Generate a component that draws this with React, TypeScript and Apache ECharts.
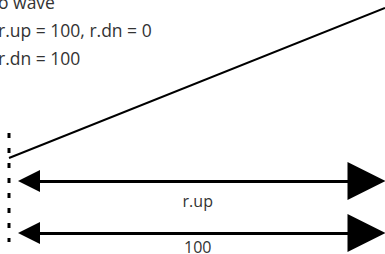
import React, { useEffect, useRef } from "react";
import * as echarts from "echarts";

// Axis domain (x: left→right, y: bottom→top)
const X_MAX = 385;
const Y_MAX = 254;

// Rising trend line
const trendX = [9, 385];
const trendY = [96, 246];

// Dotted reference line
const markerX = [9, 9];
const markerY = [121, 12];

// Double-headed arrows
const arrowFrom = [29, 29];
const arrowTo = [366.5, 366.5];
const arrowLevels = [73, 21];
const arrowLabels = ["r.up", "100"];
const arrowLabelGap = [12, 6];

// Header notes
const notes = ["o wave", "r.up = 100, r.dn = 0", "r.dn = 100"];

const FONT = "'Open Sans', sans-serif";

export default function App() {
  const ref = useRef<HTMLDivElement>(null);
  useEffect(() => {
    if (!ref.current) return;
    const chart = echarts.init(ref.current, undefined, { renderer: "svg" });
    const arrowData = arrowLevels.map((lvl, i) => ({
      coords: [
        [arrowFrom[i], lvl],
        [arrowTo[i], lvl],
      ],
      label: {
        show: true,
        formatter: arrowLabels[i],
        position: "insideMiddleBottom",
        distance: arrowLabelGap[i],
        fontFamily: FONT,
        fontSize: 16,
        color: "#333",
      },
    }));
    chart.setOption({
      animation: false,
      backgroundColor: "#fff",
      grid: { left: 0, right: 0, top: 0, bottom: 0 },
      xAxis: { type: "value", min: 0, max: X_MAX, show: false },
      yAxis: { type: "value", min: 0, max: Y_MAX, show: false },
      graphic: notes.map((t, i) => ({
        type: "text",
        left: -2,
        top: -7 + i * 28,
        style: {
          text: t,
          font: `400 17.5px ${FONT}`,
          fill: "#333",
        },
      })),
      series: [
        {
          type: "line",
          data: trendX.map((x, i) => [x, trendY[i]]),
          symbol: "none",
          lineStyle: { color: "#000", width: 2 },
        },
        {
          type: "line",
          data: markerX.map((x, i) => [x, markerY[i]]),
          symbol: "none",
          lineStyle: { color: "#000", width: 3, type: [5, 10] },
        },
        {
          type: "lines",
          coordinateSystem: "cartesian2d",
          symbol: ["triangle", "triangle"],
          symbolSize: [22, 38],
          lineStyle: { color: "#000", width: 3, opacity: 1 },
          itemStyle: { color: "#000" },
          data: arrowData,
        },
      ],
    });
    return () => chart.dispose();
  }, []);
  return (
    <div
      ref={ref}
      style={{ position: "absolute", left: 0, top: 0, width: 385, height: 254 }}
    />
  );
}
